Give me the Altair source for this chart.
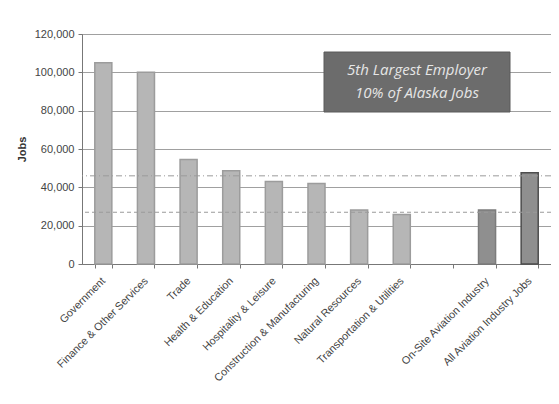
import altair as alt
import pandas as pd

categories = ["Government", "Finance & Other Services", "Trade", "Health & Education",
              "Hospitality & Leisure", "Construction & Manufacturing", "Natural Resources",
              "Transportation & Utilities", " ", "On-Site Aviation Industry",
              "All Aviation Industry Jobs"]
values = [105000, 100000, 54500, 48700, 43000, 42000, 28200, 25800, None, 28200, 47600]
groups = ["other"] * 8 + [None, "aviation", "all"]
ref_values = [46000, 27000]
annotation_lines = ["5th Largest Employer", "10% of Alaska Jobs"]
annotation_top = 110600
annotation_bottom = 79300
annotation_text_y = [101200, 89200]
y_ticks = [0, 20000, 40000, 60000, 80000, 100000, 120000]

bars_df = pd.DataFrame({"category": categories, "jobs": values, "group": groups}).dropna()

xscale = alt.Scale(domain=categories, paddingInner=0.6, paddingOuter=0.3)
yscale = alt.Scale(domain=[0, 120000])

yaxis = alt.Axis(values=y_ticks, format=",d", labelOverlap=False,
                 labelFont="Liberation Sans", labelFontSize=11, labelColor="#444",
                 titleFont="Liberation Sans", titleFontSize=11, titleFontWeight="bold",
                 titleColor="#333", titlePadding=7, tickSize=4, tickColor="#777",
                 domainColor="#777", gridColor="#a0a0a0", gridWidth=1, labelPadding=4)


def yenc(field):
    return alt.Y(field, type="quantitative", scale=yscale, title="Jobs", axis=yaxis)


xenc = alt.X("category:N", scale=xscale, sort=categories, title=None,
             axis=alt.Axis(labelAngle=-45, labelAlign="right", labelBaseline="middle",
                           labelFont="Liberation Sans", labelFontSize=10.8, labelColor="#444",
                           labelPadding=11, tickBand="extent", tickSize=4, tickColor="#777",
                           domainColor="#777", labelLimit=300))

bars = alt.Chart(bars_df).mark_bar(strokeWidth=1.5).encode(
    x=xenc, y=yenc("jobs"),
    color=alt.Color("group:N", scale=alt.Scale(domain=["other", "aviation", "all"],
                                               range=["#b6b6b6", "#8f8f8f", "#8f8f8f"]), legend=None),
    stroke=alt.Stroke("group:N", scale=alt.Scale(domain=["other", "aviation", "all"],
                                                 range=["#9c9c9c", "#7c7c7c", "#4d4d4d"]), legend=None),
)

ref_df = pd.DataFrame({"y": ref_values, "kind": ["dashdot", "dash"]})
ref1 = alt.Chart(ref_df[ref_df.kind == "dashdot"]).mark_rule(
    color="#9a9a9a", strokeWidth=1, strokeDash=[6, 3, 1, 3]).encode(y=yenc("y"))
ref2 = alt.Chart(ref_df[ref_df.kind == "dash"]).mark_rule(
    color="#9a9a9a", strokeWidth=1, strokeDash=[4, 3]).encode(y=yenc("y"))

box_df = pd.DataFrame({"top": [annotation_top], "bottom": [annotation_bottom]})
box = alt.Chart(box_df).mark_rect(color="#6c6c6c", stroke="#5a5a5a", strokeWidth=1).encode(
    x=alt.value(242), x2=alt.value(428),
    y=yenc("top"), y2="bottom:Q")

text_df = pd.DataFrame({"line": annotation_lines, "ty": annotation_text_y})
texts = alt.Chart(text_df).mark_text(font="Open Sans", fontStyle="italic", fontSize=15,
                                     color="#e6e6e6", align="center", baseline="middle").encode(
    x=alt.value(335), y=yenc("ty"), text="line:N")

chart = alt.layer(bars, ref1, ref2, box, texts).properties(
    width=469, height=230,
    autosize=alt.AutoSizeParams(type="none"),
    padding={"left": 74, "top": 26, "right": 0, "bottom": 132},
    background="white",
).configure_view(stroke="#888", strokeWidth=1)

chart.save("out.html", embed_options={"renderer": "svg", "actions": False})
